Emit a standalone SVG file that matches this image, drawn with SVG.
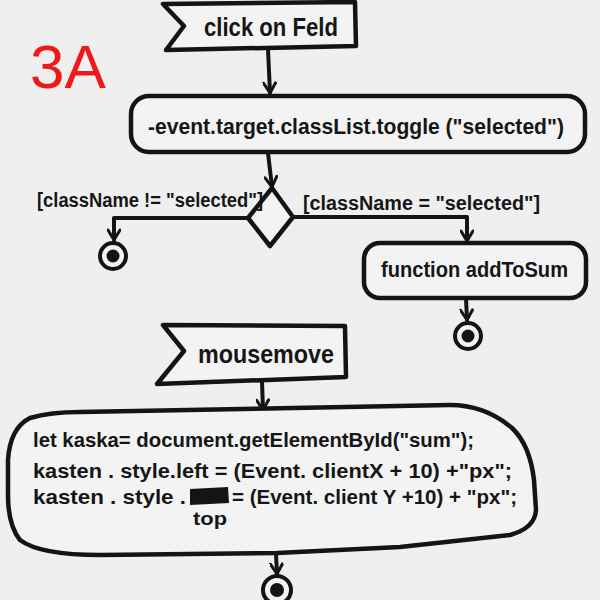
<svg xmlns="http://www.w3.org/2000/svg" width="600" height="600" viewBox="0 0 600 600">
<defs>
<style>
.ln{fill:none;stroke:#141414;stroke-width:4;stroke-linecap:round;stroke-linejoin:round}
.bx{fill:#f3f3f3;stroke:#141414;stroke-width:4.5;stroke-linejoin:round}
.t{font-family:"Liberation Sans","DejaVu Sans",sans-serif;font-weight:bold;fill:#161616}
.end{fill:#f3f3f3;stroke:#141414;stroke-width:4}
</style>
<marker id="ah" viewBox="0 0 14 14" refX="12" refY="7" markerWidth="14" markerHeight="14" markerUnits="userSpaceOnUse" orient="auto">
<path d="M2,1 L12,7 L2,13" fill="none" stroke="#141414" stroke-width="3" stroke-linecap="round" stroke-linejoin="round"/>
</marker>
</defs>
<rect width="600" height="600" fill="#efefef"/>
<text x="30" y="88" font-family="Liberation Sans,Arial,sans-serif" font-size="62" fill="#f01818">3A</text>

<g id="connectors">
<path class="ln" d="M268,49 L270,93" marker-end="url(#ah)"/>
<path class="ln" d="M268,153 L272,187" marker-end="url(#ah)"/>
<path class="ln" d="M248,218 L114,218 L114,240" marker-end="url(#ah)"/>
<path class="ln" d="M293,217 L467,217 L467,241" marker-end="url(#ah)"/>
<path class="ln" d="M466,298 L467,320" marker-end="url(#ah)"/>
<path class="ln" d="M262,382 L263,410" marker-end="url(#ah)"/>
<path class="ln" d="M276,554 L277,574" marker-end="url(#ah)"/>
</g>

<g id="event1">
<path class="bx" d="M163,4 L355,2 L356,46 L166,50 L184,26 Z"/>
<text class="t" x="204" y="36" font-size="25" textLength="134" lengthAdjust="spacingAndGlyphs">click on Feld</text>
</g>

<g id="action1">
<rect class="bx" x="131" y="96" width="454" height="56" rx="18"/>
<text class="t" x="148" y="134" font-size="22" textLength="416" lengthAdjust="spacingAndGlyphs">-event.target.classList.toggle ("selected")</text>
</g>

<g id="decision">
<path class="bx" d="M272,188 L293,217 L270,246 L248,218 Z"/>
</g>

<g id="guard-left">
<text class="t" x="37" y="207" font-size="20" textLength="226" lengthAdjust="spacingAndGlyphs">[className != "selected"]</text>
</g>
<g id="guard-right">
<text class="t" x="303" y="210" font-size="20" textLength="237" lengthAdjust="spacingAndGlyphs">[className = "selected"]</text>
</g>

<g id="end1">
<circle class="end" cx="113" cy="256" r="13"/>
<circle cx="113" cy="256" r="6.5" fill="#141414"/>
</g>

<g id="action2">
<rect class="bx" x="364" y="243" width="222" height="55" rx="16"/>
<text class="t" x="381" y="277" font-size="22" textLength="187" lengthAdjust="spacingAndGlyphs">function addToSum</text>
</g>

<g id="end2">
<circle class="end" cx="468" cy="336" r="13"/>
<circle cx="468" cy="336" r="6.5" fill="#141414"/>
</g>

<g id="event2">
<path class="bx" d="M163,325 L345,326 L346,377 L157,384 L184,351 Z"/>
<text class="t" x="198" y="363" font-size="25" textLength="136" lengthAdjust="spacingAndGlyphs">mousemove</text>
</g>

<g id="action3">
<path class="bx" d="M80,412 L450,405 Q485,405 512,428 Q530,445 534,480 L536,510 Q535,528 510,535 L400,547 L277,553 L100,555 Q40,555 20,540 Q8,525 8,495 L8,460 Q10,428 30,418 Q50,412 80,412 Z"/>
<text class="t" x="33" y="447" font-size="21" textLength="441" lengthAdjust="spacingAndGlyphs">let kaska= document.getElementById("sum");</text>
<text class="t" x="33" y="478" font-size="21" textLength="479" lengthAdjust="spacingAndGlyphs">kasten . style.left = (Event. clientX + 10) +"px";</text>
<text class="t" x="33" y="504" font-size="21" textLength="153" lengthAdjust="spacingAndGlyphs">kasten . style .</text>
<path d="M190,489 L228,487 L229,503 L190,505 Z" fill="#141414"/>
<text class="t" x="232" y="504" font-size="21" textLength="285" lengthAdjust="spacingAndGlyphs">= (Event. client Y +10) + "px";</text>
<text class="t" x="193" y="525" font-size="18" textLength="34" lengthAdjust="spacingAndGlyphs">top</text>
</g>

<g id="end3">
<circle class="end" cx="277" cy="590" r="14"/>
<circle cx="277" cy="590" r="7" fill="#141414"/>
</g>
</svg>
